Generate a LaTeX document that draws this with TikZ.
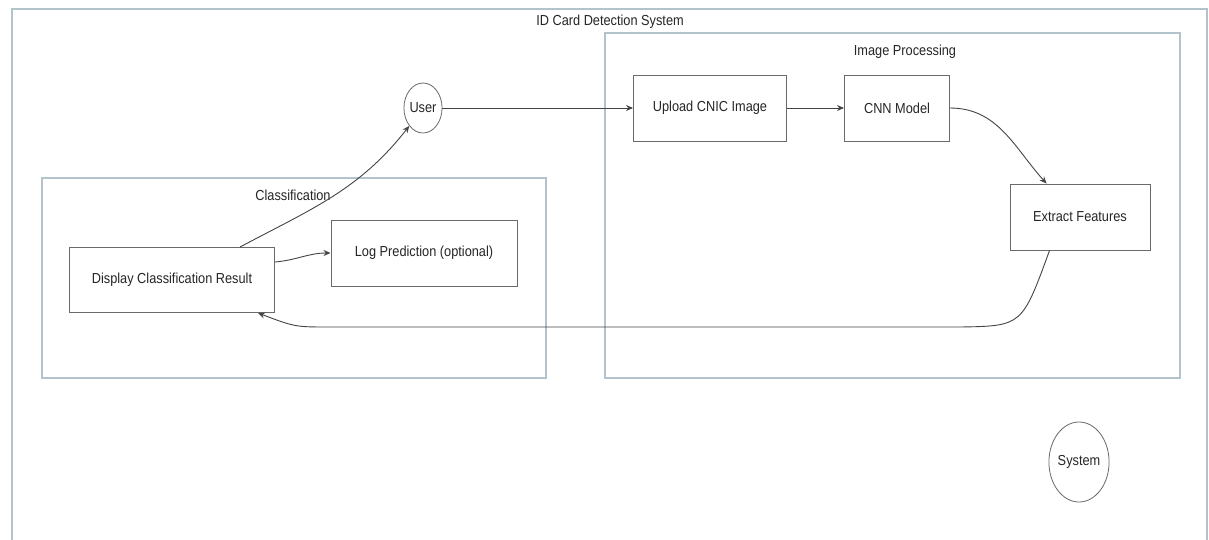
\documentclass[tikz,border=0pt]{standalone}
\usepackage{fontspec}
\setmainfont{Liberation Sans}[FakeStretch=0.88]
\usetikzlibrary{arrows.meta,calc,shapes.geometric}
\definecolor{framecol}{HTML}{B2C3CC}
\definecolor{boxcol}{HTML}{6A6A6A}
\definecolor{linecol}{HTML}{444444}
\definecolor{txtcol}{HTML}{262626}
\tikzset{
  frame/.style={draw=framecol, line width=1.4pt},
  stepbox/.style={draw=boxcol, line width=1pt, fill=white, inner sep=0pt, text=txtcol},
  actor/.style={ellipse, draw=boxcol, line width=0.8pt, fill=white, inner sep=0pt, text=txtcol},
  caption/.style={text=txtcol, inner sep=0pt},
  flow/.style={draw=linecol, line width=0.9pt, -{Stealth[length=7pt,width=6pt]}},
}
\begin{document}
\begin{tikzpicture}[x=1pt,y=-1pt, font=\fontsize{14.5}{17}\selectfont]
\useasboundingbox (0,0) rectangle (1209,539);
\fill[white] (0,0) rectangle (1209,539);

% outer system frame (its lower edge runs past the page) and the two groups
\draw[frame] (12,9) rectangle (1207,548);
\node[caption] (systitle) at (610,22) {ID Card Detection System};
\draw[frame] (605,33) rectangle (1180,378);
\node[caption] (imgtitle) at (905,52) {Image Processing};
\draw[frame] (42,178) rectangle (546,378);
\node[caption] (clstitle) at (293,195) {Classification};

% steps
\node[stepbox, minimum width=153pt, minimum height=66pt] (upload) at (710,108) {Upload CNIC Image};
\node[stepbox, minimum width=105pt, minimum height=66pt] (cnn) at (897,108) {CNN Model};
\node[stepbox, minimum width=140pt, minimum height=66pt] (extract) at (1080,217) {Extract Features};
\node[stepbox, minimum width=205pt, minimum height=65pt] (display) at (172,280) {Display Classification Result};
\node[stepbox, minimum width=186pt, minimum height=66pt] (logpred) at (424,253) {Log Prediction (optional)};

% actors
\node[actor, minimum width=36pt, minimum height=50pt] (user) at (423,108) {User};
\node[actor, minimum width=48pt, minimum height=80pt] (system) at (1079,462) {System};

% flow
\draw[flow] (user.east) -- (upload.west);
\draw[flow] (upload.east) -- (cnn.west);
\draw[flow] (cnn.east) to[out=0,in=132] ($(extract.north west)+(37,0)$);
\coordinate (bendR) at (960,327);
\coordinate (bendL) at (330,327);
\draw[flow] ($(extract.south west)+(40,0)$) .. controls (1022,326) .. (bendR) -- (bendL)
   .. controls (295,327) .. ($(display.south east)+(-17,0)$);
\draw[flow] ($(display.east)+(0,-18)$) to[out=5,in=180] (logpred.west);
\draw[flow] ($(display.north east)+(-35,0)$) to[out=28,in=-128] (user.south west);
\end{tikzpicture}
\end{document}
